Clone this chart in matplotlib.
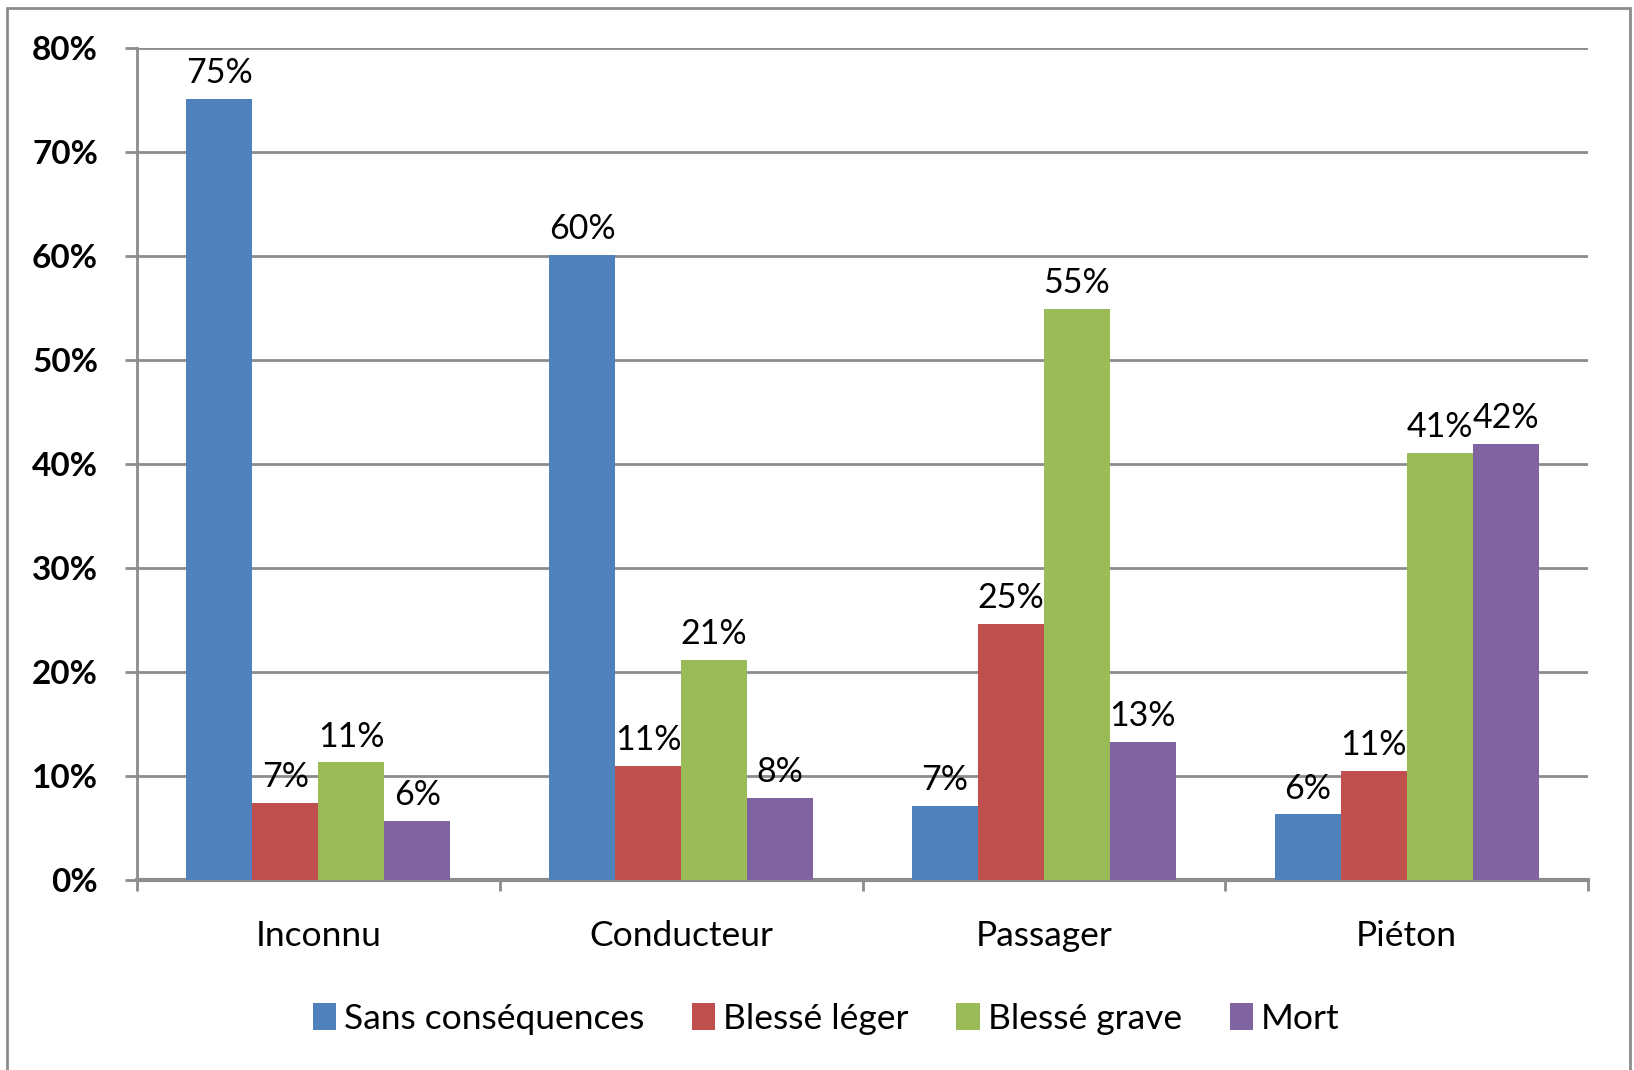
import matplotlib
matplotlib.use("Agg")
import matplotlib.pyplot as plt
import numpy as np
from matplotlib.patches import Rectangle

categories = ["Inconnu", "Conducteur", "Passager", "Piéton"]
series_names = ["Sans conséquences", "Blessé léger", "Blessé grave", "Mort"]
sans_consequences = [75.1, 60.1, 7.1, 6.3]
blesse_leger = [7.4, 11.0, 24.6, 10.5]
blesse_grave = [11.3, 21.2, 54.9, 41.1]
mort = [5.7, 7.9, 13.3, 41.9]
yticks = [0, 10, 20, 30, 40, 50, 60, 70, 80]
ytick_labels = ["0%", "10%", "20%", "30%", "40%", "50%", "60%", "70%", "80%"]

colors = ["#4F81BD", "#C0504D", "#9BBB59", "#8064A2"]
series = [sans_consequences, blesse_leger, blesse_grave, mort]

FONT = "Lato"
plt.rcParams["font.family"] = [FONT, "DejaVu Sans"]

W, H = 1634, 1070
fig = plt.figure(figsize=(W / 100, H / 100), dpi=100)
ax = fig.add_axes([137 / W, 1 - 880 / H, (1588 - 137) / W, (880 - 48) / H])

x = np.arange(len(categories))
bw = 1 / 5.5
grid_col = "#8C8C8C"

handles = []
for i, (vals, col, name) in enumerate(zip(series, colors, series_names)):
    bars = ax.bar(x + (i - 1.5) * bw, vals, width=bw, color=col, label=name,
                  edgecolor="none", zorder=3)
    handles.append(bars)
    for xi, v in zip(x + (i - 1.5) * bw, vals):
        ax.annotate(f"{int(v + 0.5)}%", (xi, v), xytext=(0, 11.5),
                    textcoords="offset points", ha="center", va="baseline",
                    fontsize=24.5, zorder=4)

ax.set_xlim(-0.5, len(categories) - 0.5)
ax.set_ylim(0, 80)
ax.set_yticks(yticks)
ax.set_yticklabels(ytick_labels, fontsize=24, fontweight="bold")
ax.yaxis.grid(True, color=grid_col, linewidth=2, zorder=0)
ax.set_axisbelow(True)

ax.set_xticks(x)
ax.set_xticklabels(categories, fontsize=25.5)
ax.set_xticks(np.arange(-0.5, len(categories), 1), minor=True)
ax.tick_params(axis="x", which="major", length=0, pad=29)
ax.tick_params(axis="x", which="minor", length=8, width=2, color=grid_col, direction="out")
ax.tick_params(axis="y", length=9, width=2, color=grid_col, direction="out", pad=19)

for s in ["top", "right"]:
    ax.spines[s].set_visible(False)
for s in ["left", "bottom"]:
    ax.spines[s].set_color(grid_col)
ax.spines["left"].set_linewidth(2)
ax.spines["bottom"].set_linewidth(3)

fig.legend(handles=handles, labels=series_names, loc="center",
           bbox_to_anchor=(826 / W, 1 - 1019 / H), ncol=4, frameon=False,
           fontsize=25.5, handlelength=0.66, handleheight=0.78,
           handletextpad=0.22, columnspacing=1.35)

fig.patches.append(Rectangle((7 / W, -0.05), (1630 - 7) / W, 1.05 - 8 / H,
                             transform=fig.transFigure, fill=False,
                             edgecolor=grid_col, linewidth=2))

fig.savefig("out.png", dpi=100)
